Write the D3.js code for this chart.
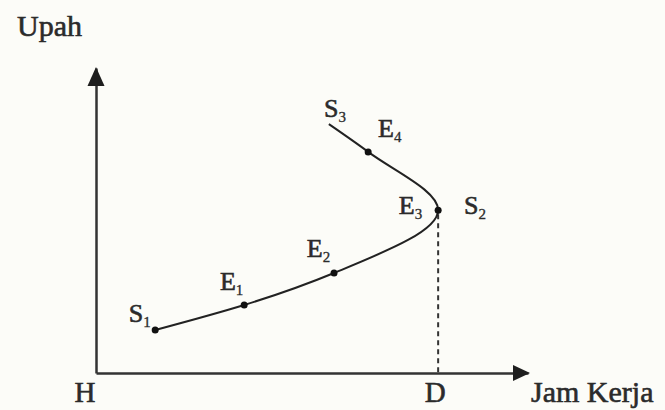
<!DOCTYPE html>
<html>
<head>
<meta charset="utf-8">
<script src="https://cdn.jsdelivr.net/npm/d3@7"></script>
<style>
  body { margin: 0; background: #fcfcf8; }
  svg text {
    font-family: "Liberation Serif", "Times New Roman", serif;
    fill: #2b2b2b;
    stroke: #2b2b2b;
    stroke-width: 0.6px;
  }
</style>
</head>
<body>
<div id="chart"></div>
<script>
// labelled points along the supply curve (hours worked, wage), 0..100 units
var pointNames = ["S1", "E1", "E2", "E3", "E4", "S3"];
var pointX = [13.7, 34.3, 55.1, 79.2, 63.0, 53.9];
var pointY = [14.1, 22.3, 32.8, 53.4, 72.5, 81.6];
var hasDot = [true, true, true, true, true, false];

// point labels: main letter, subscript, anchor in data units
var labelMain = ["S", "E", "E", "E", "S", "S", "E"];
var labelSub = ["1", "1", "2", "3", "2", "3", "4"];
var labelX = [7.6, 28.7, 48.8, 70.1, 85.2, 52.8, 65.3];
var labelY = [16.7, 27.2, 38.0, 52.1, 52.1, 83.9, 77.4];

var axisLabels = ["Upah", "Jam Kerja", "H", "D"];

var width = 665, height = 410;

var svg = d3.select("#chart").append("svg")
    .attr("width", width)
    .attr("height", height);

var x = d3.scaleLinear().domain([0, 100]).range([96, 528]);
var y = d3.scaleLinear().domain([0, 100]).range([373, 68]);

// axes without ticks
svg.append("g")
    .attr("transform", "translate(0," + y(0) + ")")
    .call(d3.axisBottom(x).tickValues([]).tickSizeOuter(0));
svg.append("g")
    .attr("transform", "translate(" + x(0) + ",0)")
    .call(d3.axisLeft(y).tickValues([]).tickSizeOuter(0));
svg.selectAll(".domain")
    .attr("stroke", "#333")
    .attr("stroke-width", 2.5);

// arrow heads
svg.append("path")
    .attr("d", "M" + x(0) + "," + (y(100) - 1) + "l-8.5,19l17,0z")
    .attr("fill", "#1e1e1e");
svg.append("path")
    .attr("d", "M" + (x(100) + 2) + "," + y(0) + "l-17,-8l0,16z")
    .attr("fill", "#1e1e1e");

// dashed drop line from E3
svg.append("line")
    .attr("x1", x(pointX[3])).attr("x2", x(pointX[3]))
    .attr("y1", y(pointY[3]) + 4).attr("y2", y(0))
    .attr("stroke", "#333")
    .attr("stroke-width", 2)
    .attr("stroke-dasharray", "5,4");

// backward bending supply curve, x as a smooth function of y
var line = d3.line()
    .x(function (d, i) { return x(pointX[i]); })
    .y(function (d, i) { return y(pointY[i]); })
    .curve(d3.curveMonotoneY);

svg.append("path")
    .attr("d", line(pointNames))
    .attr("fill", "none")
    .attr("stroke", "#222")
    .attr("stroke-width", 2);

svg.selectAll("circle")
    .data(pointNames.filter(function (d, i) { return hasDot[i]; }))
    .enter()
    .append("circle")
    .attr("cx", function (d, i) { return x(pointX[i]); })
    .attr("cy", function (d, i) { return y(pointY[i]); })
    .attr("r", 3.5)
    .attr("fill", "#111");

// point labels with subscripts
var lab = svg.selectAll(".plabel")
    .data(labelMain)
    .enter()
    .append("text")
    .attr("class", "plabel")
    .attr("x", function (d, i) { return x(labelX[i]); })
    .attr("y", function (d, i) { return y(labelY[i]); })
    .style("font-size", "26px");
lab.append("tspan").text(function (d) { return d; });
lab.append("tspan")
    .attr("dy", 5)
    .style("font-size", "15px")
    .style("stroke-width", "0.3px")
    .text(function (d, i) { return labelSub[i]; });

// axis labels
svg.append("text").attr("x", 17).attr("y", 36)
    .style("font-size", "30px").text(axisLabels[0]);
svg.append("text").attr("x", 531).attr("y", 402)
    .style("font-size", "30px").text(axisLabels[1]);
svg.append("text").attr("x", 85).attr("y", 402)
    .attr("text-anchor", "middle")
    .style("font-size", "29px").text(axisLabels[2]);
svg.append("text").attr("x", x(pointX[3]) - 3).attr("y", 402)
    .attr("text-anchor", "middle")
    .style("font-size", "29px").text(axisLabels[3]);
</script>
</body>
</html>
